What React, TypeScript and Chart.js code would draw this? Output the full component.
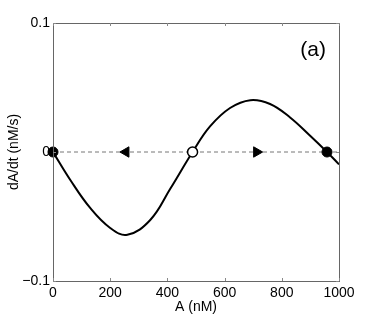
import React, { useEffect, useRef } from "react";
import { Chart, registerables } from "chart.js";

Chart.register(...registerables);

const curveA = [0, 60, 130, 200, 260, 340, 410, 488, 549, 619, 690, 759, 829, 900, 958, 1000];
const curveV = [0, -0.0215, -0.0434, -0.0589, -0.0642, -0.0527, -0.0285, 0, 0.0198, 0.0341, 0.0402, 0.0372, 0.0268, 0.0124, 0, -0.0096];

const stableA = [0, 958];
const unstableA = [488];
const leftArrowA = [255];
const rightArrowA = [712];
const lineA = [0, 1000];

const xTicks = [0, 200, 400, 600, 800, 1000];
const yTicks = [-0.1, 0, 0.1];
const panelLabel = "(a)";
const xTitle = "A (nM)";
const yTitle = "dA/dt (nM/s)";

const FONT = "'Liberation Sans', Arial, Helvetica, sans-serif";

export default function App() {
  const ref = useRef<HTMLCanvasElement>(null);
  useEffect(() => {
    if (!ref.current) return;
    const boxPlugin = {
      id: "box",
      afterDraw(chart: any) {
        const { ctx, chartArea: a, scales } = chart;
        ctx.save();
        ctx.strokeStyle = "#666";
        ctx.lineWidth = 1;
        ctx.strokeRect(Math.round(a.left) + 0.5, Math.round(a.top) + 0.5, Math.round(a.right - a.left), Math.round(a.bottom - a.top));
        const tl = 3;
        ctx.strokeStyle = "#888";
        for (const v of xTicks) {
          const x = Math.round(scales.x.getPixelForValue(v)) + 0.5;
          ctx.beginPath();
          ctx.moveTo(x, a.bottom);
          ctx.lineTo(x, a.bottom - tl);
          ctx.moveTo(x, a.top);
          ctx.lineTo(x, a.top + tl);
          ctx.stroke();
        }
        for (const v of yTicks) {
          const y = Math.round(scales.y.getPixelForValue(v)) + 0.5;
          ctx.beginPath();
          ctx.moveTo(a.left, y);
          ctx.lineTo(a.left + tl, y);
          ctx.moveTo(a.right, y);
          ctx.lineTo(a.right - tl, y);
          ctx.stroke();
        }
        ctx.fillStyle = "#000";
        ctx.font = `21px ${FONT}`;
        ctx.textAlign = "right";
        ctx.textBaseline = "middle";
        ctx.fillText(panelLabel, a.right - 13, a.top + 27);
        ctx.restore();
      },
    };
    const chart = new Chart(ref.current, {
      type: "scatter",
      data: {
        datasets: [
          {
            data: stableA.map((a) => ({ x: a, y: 0 })),
            showLine: false,
            pointRadius: 5,
            pointBackgroundColor: "#000",
            pointBorderColor: "#000",
            pointBorderWidth: 1,
            clip: false,
            order: 0,
          } as any,
          {
            data: unstableA.map((a) => ({ x: a, y: 0 })),
            showLine: false,
            pointRadius: 5,
            pointBackgroundColor: "#fff",
            pointBorderColor: "#000",
            pointBorderWidth: 1.5,
            clip: false,
            order: 0,
          },
          {
            data: leftArrowA.map((a) => ({ x: a, y: 0 })),
            showLine: false,
            pointStyle: "triangle",
            rotation: -90,
            pointRadius: 6,
            pointBackgroundColor: "#000",
            pointBorderColor: "#000",
            order: 1,
          },
          {
            data: rightArrowA.map((a) => ({ x: a, y: 0 })),
            showLine: false,
            pointStyle: "triangle",
            rotation: 90,
            pointRadius: 6,
            pointBackgroundColor: "#000",
            pointBorderColor: "#000",
            order: 1,
          },
          {
            data: curveA.map((a, i) => ({ x: a, y: curveV[i] })),
            showLine: true,
            borderColor: "#000",
            borderWidth: 2,
            pointRadius: 0,
            tension: 0.4,
            order: 2,
          },
          {
            data: lineA.map((a) => ({ x: a, y: 0 })),
            showLine: true,
            borderColor: "#777",
            borderWidth: 1,
            borderDash: [4, 3],
            pointRadius: 0,
            order: 3,
          },
        ],
      },
      options: {
        animation: false,
        responsive: false,
        maintainAspectRatio: false,
        events: [],
        layout: { padding: { top: 23, right: 35, left: 6, bottom: 0 } },
        plugins: { legend: { display: false }, tooltip: { enabled: false } },
        scales: {
          x: {
            type: "linear",
            min: 0,
            max: 1000,
            afterBuildTicks: (s: any) => {
              s.ticks = xTicks.map((v) => ({ value: v }));
            },
            afterFit: (s: any) => {
              s.height = 35;
            },
            grid: { display: false, drawTicks: false },
            border: { display: false },
            ticks: {
              color: "#000",
              font: { family: FONT, size: 14 },
              padding: 4,
              maxRotation: 0,
              callback: (v: any) => String(v),
            },
            title: {
              display: true,
              text: xTitle,
              color: "#000",
              font: { family: FONT, size: 14 },
              padding: { top: -4, bottom: 0 },
            },
          },
          y: {
            type: "linear",
            min: -0.1,
            max: 0.1,
            afterBuildTicks: (s: any) => {
              s.ticks = yTicks.map((v) => ({ value: v }));
            },
            afterFit: (s: any) => {
              s.width = 47;
            },
            grid: { display: false, drawTicks: false },
            border: { display: false },
            ticks: {
              color: "#000",
              font: { family: FONT, size: 14 },
              padding: 3,
              callback: (v: any) => {
                const n = Number(v);
                if (Math.abs(n) < 1e-9) return "0";
                return (n < 0 ? "\u2212" : "") + Math.abs(n).toFixed(1);
              },
            },
            title: {
              display: true,
              text: yTitle,
              color: "#000",
              font: { family: FONT, size: 14 },
              padding: { top: 0, bottom: 0 },
            },
          },
        },
      },
      plugins: [boxPlugin],
    });
    return () => chart.destroy();
  }, []);
  return (
    <div style={{ position: "fixed", left: 0, top: 0, width: 374, height: 316, background: "#fff" }}>
      <canvas ref={ref} width={374} height={316} style={{ width: 374, height: 316 }} />
    </div>
  );
}
